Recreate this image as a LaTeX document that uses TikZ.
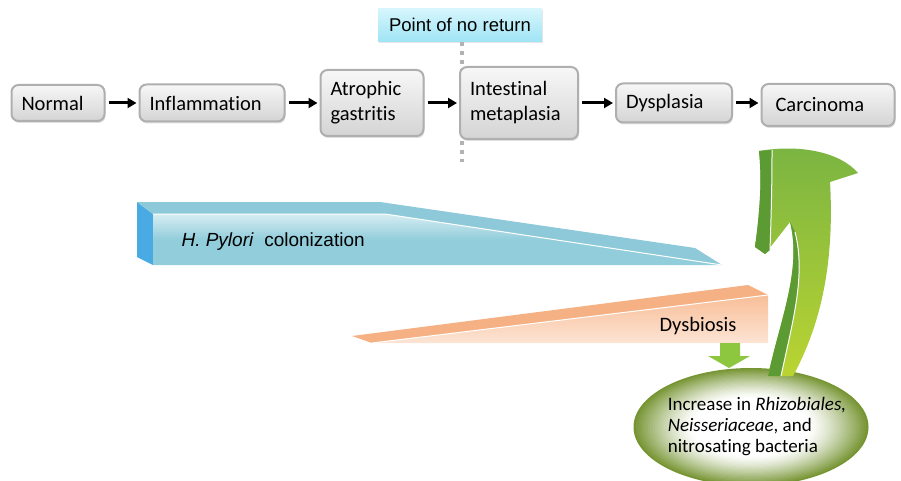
\documentclass[tikz,border=0pt]{standalone}
\usepackage{fontspec}
\setmainfont{Carlito}[Ligatures=NoCommon]
\newfontfamily\arialfont{Liberation Sans}
\usetikzlibrary{arrows.meta,shapes.geometric,shadows}
\definecolor{StageTop}{RGB}{247,247,247}
\definecolor{StageBottom}{RGB}{212,212,212}
\definecolor{StageBorder}{RGB}{175,175,175}
\definecolor{ReturnTop}{RGB}{214,246,252}
\definecolor{ReturnBottom}{RGB}{160,228,245}
\definecolor{PyloriSide}{RGB}{74,170,227}
\definecolor{PyloriTop}{RGB}{141,201,216}
\definecolor{PyloriFrontTop}{RGB}{214,237,243}
\definecolor{PyloriFront}{RGB}{146,205,219}
\definecolor{DysTop}{RGB}{245,177,131}
\definecolor{DysFrontTop}{RGB}{248,190,152}
\definecolor{DysFrontBottom}{RGB}{252,228,212}
\definecolor{SmallGreen}{RGB}{141,198,63}
\definecolor{CurveTop}{RGB}{122,180,66}
\definecolor{CurveBottom}{RGB}{186,212,50}
\definecolor{CurveDark}{RGB}{92,155,51}
\definecolor{EllEdge}{RGB}{118,148,50}

\begin{document}
\begin{tikzpicture}[x=1pt,y=-1pt,
   stage/.style 2 args={rectangle,rounded corners=7pt,draw=StageBorder,line width=2pt,top color=StageTop,bottom color=StageBottom,text width=#1,minimum height=#2,inner xsep=10pt,align=left,font=\fontsize{20.5}{25}\selectfont,drop shadow={shadow xshift=1pt,shadow yshift=-2pt,opacity=0.25}},
   flow/.style={line width=3pt,-{Triangle[length=9pt,width=10pt]},shorten <=3pt,shorten >=2pt},
   edge/.style={white,line width=1pt}]
\useasboundingbox (0,0) rectangle (901,481);
% point of no return
\node[rectangle,top color=ReturnTop,bottom color=ReturnBottom,minimum width=164pt,minimum height=33pt,font=\arialfont\fontsize{18.5}{21}\selectfont,drop shadow={shadow xshift=1pt,shadow yshift=-2pt,opacity=0.2}](ponr) at (460,25) {Point of no return};
\coordinate (dotend) at (462,162);
\draw[gray!60,line width=4pt,dash pattern=on 4pt off 5pt] (ponr.south -| dotend) -- (dotend);
% stages
\node[stage={73pt}{36pt}](normal) at (58,103) {Normal};
\node[stage={125pt}{37pt}](inflam) at (212,103) {Inflammation};
\node[stage={83pt}{66pt}](atrophic) at (372,103) {Atrophic\\gastritis};
\node[stage={98pt}{72pt}](intestinal) at (519,103) {Intestinal\\metaplasia};
\node[stage={96pt}{39pt}](dysplasia) at (674,103) {Dysplasia};
\node[stage={113pt}{42pt}](carcinoma) at (828,105) {\hspace{4pt}Carcinoma};
\draw[flow] (normal) -- (inflam);
\draw[flow] (inflam) -- (atrophic);
\draw[flow] (atrophic) -- (intestinal);
\draw[flow] (intestinal) -- (dysplasia);
\draw[flow] (dysplasia) -- (carcinoma.west |- dysplasia);
% H. pylori wedge
\fill[PyloriSide] (137,202) -- (153,214) -- (153,265) -- (137,257) -- cycle;
\fill[PyloriTop] (137,202) -- (380,202) -- (695,248) -- (722,265) -- (385,214) -- (153,214) -- cycle;
\shade[top color=PyloriFrontTop,bottom color=PyloriFront,middle color=PyloriFront] (153,214) -- (385,214) -- (722,265) -- (153,265) -- cycle;
\draw[edge] (153,214) -- (385,214) -- (722,265);
\node[anchor=west,font=\arialfont\fontsize{19}{22}\selectfont](pylori) at (178,242) {\textit{H. Pylori}\ \ colonization};
% dysbiosis wedge
\fill[DysTop] (352,336) -- (748,285) -- (768,295) -- (372,343) -- cycle;
\shade[top color=DysFrontTop,bottom color=DysFrontBottom] (372,343) -- (768,295) -- (768,343) -- cycle;
\draw[edge] (372,343) -- (768,295);
\node[font=\fontsize{20.5}{24}\selectfont](dysbiosis) at (698,326) {Dysbiosis};
% small arrow
\fill[SmallGreen] (720,343) -- (740,343) -- (740,356) -- (750,356) -- (729,368) -- (708,356) -- (720,356) -- cycle;
% bacteria
\node[ellipse,fill=EllEdge,minimum width=235pt,minimum height=118pt](microbes) at (751,427) {};
\foreach \r in {0.98,0.96,...,0.5} {
   \pgfmathsetmacro\pct{100*(max(0.001,(\r-0.5)/0.5))^1.3}
   \fill[EllEdge!\pct!white] (microbes.center) ellipse [x radius=117.5*\r, y radius=59*\r];
}
\node[align=left,font=\fontsize{19}{21}\selectfont](microbetext) at ([xshift=6pt]microbes.center) {Increase in \textit{Rhizobiales,}\\\textit{Neisseriaceae}, and\\nitrosating bacteria};
% big curved arrow
\shade[top color=CurveTop,bottom color=CurveBottom] (759,151) .. controls (800,144) and (840,152) .. (858,173) -- (830,182) .. controls (835,270) and (818,330) .. (793,376) -- (768,376) .. controls (780,320) and (802,270) .. (790,222) -- (765,254) -- (755,247) .. controls (760,210) and (762,180) .. cycle;
\fill[CurveDark] (768,376) .. controls (780,320) and (802,270) .. (790,222) -- (795,232) .. controls (806,275) and (793,320) .. (781,376) -- cycle;
\draw[edge] (795,232) .. controls (806,275) and (793,320) .. (781,376);
\fill[CurveDark] (759,151) -- (772,150) .. controls (772,190) and (771,220) .. (770,250) -- (765,254) -- (755,247) .. controls (760,210) and (762,180) .. cycle;
\draw[edge] (772,150) .. controls (772,190) and (771,220) .. (770,250);
\end{tikzpicture}
\end{document}
